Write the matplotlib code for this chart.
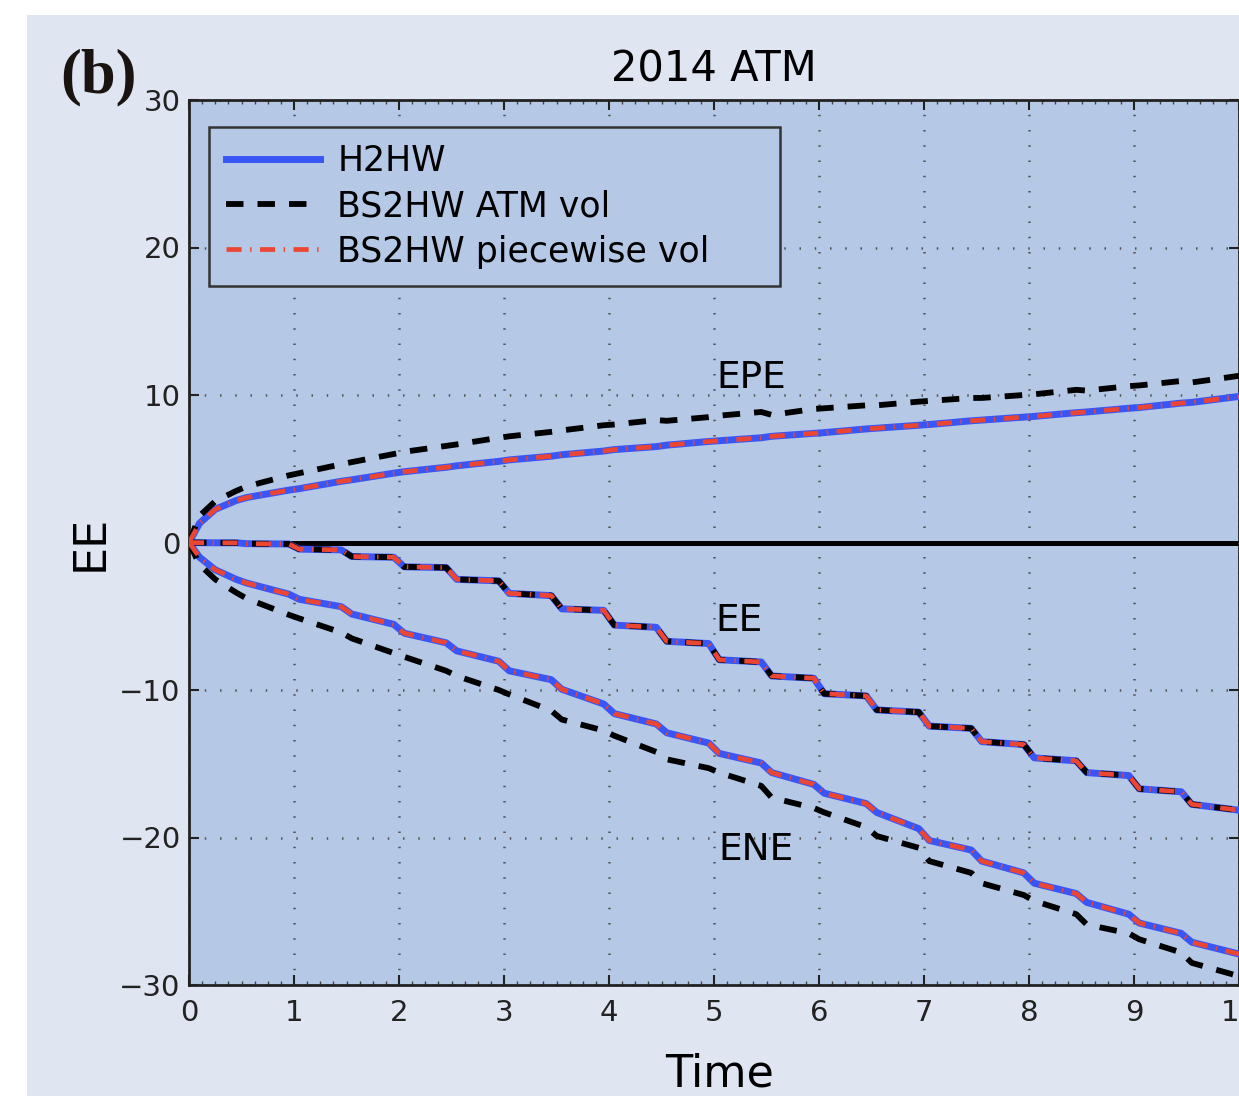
import matplotlib
matplotlib.use('Agg')
import matplotlib.pyplot as plt
from matplotlib.patches import Rectangle
from matplotlib.ticker import MultipleLocator

# time grid (plateau / step knots of the semi-annual schedule)
t = [0, 0.1, 0.25, 0.45, 0.55, 0.95, 1.05, 1.45, 1.55, 1.95, 2.05, 2.45, 2.55,
     2.95, 3.05, 3.45, 3.55, 3.95, 4.05, 4.45, 4.55, 4.95, 5.05, 5.45, 5.55,
     5.95, 6.05, 6.45, 6.55, 6.95, 7.05, 7.45, 7.55, 7.95, 8.05, 8.45, 8.55,
     8.95, 9.05, 9.45, 9.55, 10.0]

epe_h2hw = [0, 1.3, 2.25, 2.85, 3.05, 3.55, 3.65, 4.15, 4.25, 4.7, 4.8, 5.1, 5.2,
            5.5, 5.6, 5.85, 5.95, 6.2, 6.3, 6.5, 6.6, 6.85, 6.9, 7.1, 7.2,
            7.4, 7.45, 7.7, 7.75, 7.95, 8.0, 8.25, 8.3, 8.5, 8.55, 8.8, 8.85,
            9.1, 9.15, 9.45, 9.5, 9.9]
epe_bs_atm = [0, 1.8, 2.8, 3.5, 3.8, 4.55, 4.7, 5.3, 5.45, 6.0, 6.15, 6.55, 6.65,
              7.1, 7.2, 7.5, 7.6, 7.95, 8.0, 8.3, 8.25, 8.5, 8.6, 8.85, 8.65,
              9.05, 9.1, 9.3, 9.3, 9.55, 9.6, 9.8, 9.8, 10.0, 10.05, 10.35, 10.3,
              10.6, 10.65, 10.95, 10.85, 11.3]

ee_h2hw = [0, -0.01, -0.02, -0.02, -0.08, -0.1, -0.45, -0.5, -0.95, -1.0, -1.65, -1.7, -2.5,
           -2.6, -3.45, -3.6, -4.5, -4.6, -5.6, -5.75, -6.7, -6.85, -7.95, -8.1, -9.05,
           -9.2, -10.25, -10.4, -11.35, -11.5, -12.45, -12.6, -13.5, -13.7, -14.6, -14.8, -15.6,
           -15.8, -16.7, -16.9, -17.75, -18.15]
ee_bs_atm = [0, -0.01, -0.02, -0.02, -0.08, -0.1, -0.45, -0.5, -0.95, -1.0, -1.65, -1.7, -2.5,
             -2.6, -3.45, -3.6, -4.5, -4.6, -5.6, -5.75, -6.7, -6.85, -7.95, -8.1, -9.05,
             -9.2, -10.25, -10.4, -11.35, -11.5, -12.45, -12.6, -13.5, -13.7, -14.6, -14.8, -15.6,
             -15.8, -16.7, -16.9, -17.75, -18.15]

ene_h2hw = [0, -1.0, -1.85, -2.5, -2.75, -3.5, -3.85, -4.35, -4.85, -5.55, -6.15, -6.8, -7.35,
            -8.05, -8.7, -9.3, -9.95, -10.95, -11.6, -12.3, -12.9, -13.6, -14.3, -14.95, -15.6,
            -16.4, -17.0, -17.7, -18.3, -19.4, -20.2, -20.85, -21.6, -22.4, -23.1, -23.8, -24.4,
            -25.2, -25.8, -26.5, -27.1, -27.9]
ene_bs_atm = [0, -1.5, -2.5, -3.4, -3.8, -4.9, -5.15, -6.1, -6.5, -7.5, -7.75, -8.7, -9.05,
              -10.0, -10.3, -11.4, -12.0, -12.75, -13.1, -14.2, -14.7, -15.3, -15.6, -16.5, -17.3,
              -18.0, -18.3, -19.3, -19.9, -20.7, -21.6, -22.4, -23.1, -23.9, -24.3, -25.2, -25.9,
              -26.5, -26.9, -27.8, -28.5, -29.4]

# piecewise vol lies on top of H2HW
epe_bs_pw = epe_h2hw
ee_bs_pw = ee_h2hw
ene_bs_pw = ene_h2hw

blue = '#3a55f5'
red = '#eb4634'

fig = plt.figure(figsize=(12.39, 10.96), dpi=100, facecolor='white')
fig.patches.append(Rectangle((27 / 1239, 0), 1, 1 - 15 / 1096, transform=fig.transFigure,
                             facecolor='#dfe6f2', edgecolor='none', zorder=-10))
ax = fig.add_axes([189 / 1239, 111 / 1096, 1050 / 1239, 885 / 1096])
ax.set_facecolor('#b5c9e6')

ax.axhline(0, color='black', lw=3.6, zorder=2)

for i, (ys_h, ys_b, ys_p) in enumerate([(epe_h2hw, epe_bs_atm, epe_bs_pw),
                                         (ee_h2hw, ee_bs_atm, ee_bs_pw),
                                         (ene_h2hw, ene_bs_atm, ene_bs_pw)]):
    ax.plot(t, ys_h, color=blue, lw=5, solid_joinstyle='round', zorder=3,
            label='H2HW' if i == 0 else None)
    ax.plot(t, ys_b, color='black', lw=4.2, dashes=(3.0, 2.4), zorder=4,
            label='BS2HW ATM vol' if i == 0 else None)
    ax.plot(t, ys_p, color=red, lw=3.4, dashes=(3.2, 1.8, 0.3, 1.8), zorder=5,
            label='BS2HW piecewise vol' if i == 0 else None)

ax.text(5.35, 10.5, 'EPE', fontsize=27, ha='center', va='baseline')
ax.text(5.24, -6.03, 'EE', fontsize=27, ha='center', va='baseline')
ax.text(5.4, -21.5, 'ENE', fontsize=27, ha='center', va='baseline')

ax.set_xlim(0, 10)
ax.set_ylim(-30, 30)
ax.set_xticks(range(0, 11))
ax.set_yticks([-30, -20, -10, 0, 10, 20, 30])
ax.set_yticklabels(['\u221230', '\u221220', '\u221210', '0', '10', '20', '30'])
ax.xaxis.set_minor_locator(MultipleLocator(0.125))
ax.tick_params(which='major', direction='in', length=7, width=1.5, labelsize=21,
               top=True, right=True, colors='#222222')
ax.tick_params(axis='x', which='major', pad=10)
ax.tick_params(axis='y', which='major', pad=6)
ax.tick_params(which='minor', direction='in', length=3, width=1, top=True, colors='#444444')
ax.grid(True, which='major', color='#555555', linestyle=(0, (0.6, 5.5)), linewidth=1.8, zorder=1)
ax.set_axisbelow(True)
for s in ax.spines.values():
    s.set_linewidth(2)
    s.set_color('#222222')

ax.set_title('2014 ATM', fontsize=30, pad=13)
ax.set_xlabel('Time', fontsize=32)
ax.set_ylabel('EE', fontsize=32)
ax.xaxis.set_label_coords((720 - 189) / 1050, -0.0768)
ax.yaxis.set_label_coords((112 - 189) / 1050, 0.5)

leg = ax.legend(loc='upper left', bbox_to_anchor=(20 / 1050, 0.7932, 571 / 1050, 0.1763),
                mode='expand', borderaxespad=0, fontsize=25, handlelength=2.7,
                handletextpad=0.5, labelspacing=0.32, borderpad=0.5,
                fancybox=False, framealpha=1, facecolor='#b5c9e6', edgecolor='#333333')
leg.get_frame().set_linewidth(1.8)

fig.text(60 / 1239, 1 - 92 / 1096, '(b)', fontsize=45, fontweight='bold',
         family='Liberation Serif', color='#1a1410', ha='left', va='baseline')

fig.savefig('out.png', dpi=100, facecolor=fig.get_facecolor())
